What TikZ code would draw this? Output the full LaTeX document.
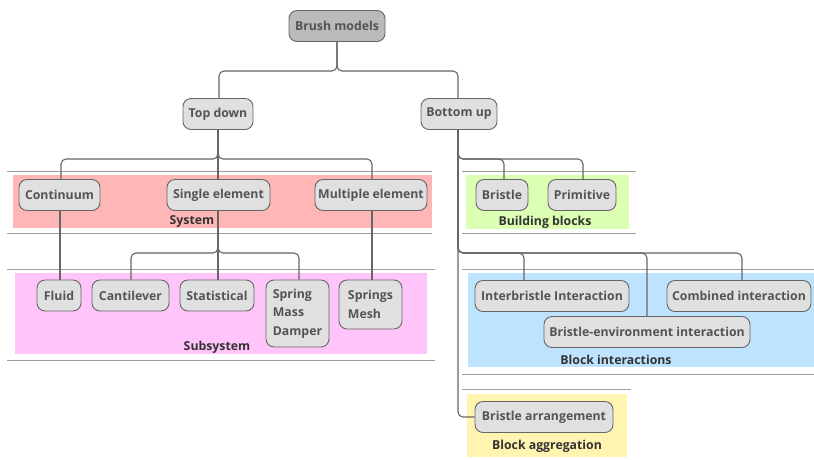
\documentclass[tikz,border=0pt]{standalone}
\usepackage{fontspec}
\setmainfont{Open Sans}
\definecolor{cSys}{HTML}{FFB6B6}
\definecolor{cSub}{HTML}{FFC4FA}
\definecolor{cBB}{HTML}{DDFFB3}
\definecolor{cBI}{HTML}{BDE3FF}
\definecolor{cBA}{HTML}{FFF5B0}
\begin{document}
\begin{tikzpicture}[x=1pt,y=-1pt,
  every node/.style={font=\bfseries\fontsize{12.3}{18.3}\selectfont},
  item/.style={draw=black!60, line width=0.9pt, fill=black!12, rounded corners=8pt, text=black!67, minimum height=31pt, inner xsep=2pt, inner ysep=0pt},
  root/.style={item, fill=black!27},
  band/.style={text=black!80},
  sep/.style={draw=black!38, line width=0.9pt},
  link/.style={draw=black!60, line width=1.1pt, rounded corners=5pt}]
\useasboundingbox (0,0) rectangle (814,459);
% bands
\fill[cSys] (13,175) rectangle (432,228);
\fill[cSub] (15,273) rectangle (427,354);
\fill[cBB] (466,175) rectangle (629,229);
\fill[cBI] (468,273) rectangle (814,367);
\fill[cBA] (467,394) rectangle (627,457);
\draw[sep] (7,171) -- (432,171);
\draw[sep] (7,233) -- (432,233);
\draw[sep] (7,269) -- (435,269);
\draw[sep] (7,360) -- (435,360);
\draw[sep] (462,171) -- (636,171);
\draw[sep] (462,233) -- (636,233);
\draw[sep] (462,269) -- (814,269);
\draw[sep] (462,374) -- (814,374);
\draw[sep] (462,389) -- (631,389);
\node[band] (lsys) at (192,222) {System};
\node[band] (lbb) at (545,222) {Building blocks};
\node[band] (lsub) at (217,347) {Subsystem};
\node[band] (lbi) at (616,360) {Block interactions};
\node[band] (lba) at (547,446) {Block aggregation};
% nodes
\node[root, minimum width=96pt] (brush) at (337,26) {Brush models};
\node[item, minimum width=70pt] (top) at (218,114) {Top down};
\node[item, minimum width=76pt] (bottom) at (459,114) {Bottom up};
\node[item, minimum width=81pt] (cont) at (59.5,195) {Continuum};
\node[item, minimum width=103pt] (single) at (218.5,195) {Single element};
\node[item, minimum width=112pt] (multi) at (371,195) {Multiple element};
\node[item, minimum width=52pt] (bristle) at (502,195) {Bristle};
\node[item, minimum width=68pt] (prim) at (582,195) {Primitive};
\node[item, minimum width=44pt] (fluid) at (59,295.5) {Fluid};
\node[item, minimum width=77pt] (cant) at (130.5,295.5) {Cantilever};
\node[item, minimum width=74pt] (stat) at (217,295.5) {Statistical};
\node[item, minimum width=63pt, minimum height=67pt, align=left, inner xsep=5pt] (smd) at (297.5,313.5) {Spring\\Mass\\Damper};
\node[item, minimum width=63pt, minimum height=49pt, align=left, inner xsep=5pt] (mesh) at (370.5,304.5) {Springs\\Mesh};
\node[item, minimum width=154pt] (inter) at (552,296) {Interbristle Interaction};
\node[item, minimum width=144pt] (comb) at (739,296) {Combined interaction};
\node[item, minimum width=206pt] (env) at (647,332) {Bristle-environment interaction};
\node[item, minimum width=138pt] (arr) at (544,417) {Bristle arrangement};
% connectors
\draw[link] (brush.south) -- (337,71) -| (top.north -| 219,0);
\draw[link] (brush.south) -- (337,71) -| (bottom.north -| 458,0);
\draw[link] (top.south -| 218,0) -- (218,159) -| (cont.north -| 61,0);
\draw[link] (top.south -| 218,0) -- (single.north -| 218,0);
\draw[link] (top.south -| 218,0) -- (218,159) -| (multi.north -| 372,0);
\draw[link] (cont.south -| 60,0) -- (fluid.north -| 60,0);
\draw[link] (multi.south -| 372,0) -- (mesh.north -| 372,0);
\draw[link] (single.south -| 218,0) -- (218,253) -| (cant.north -| 131,0);
\draw[link] (single.south -| 218,0) -- (stat.north -| 218,0);
\draw[link] (single.south -| 218,0) -- (218,253) -| (smd.north -| 299,0);
\draw[link] (bottom.south -| 458,0) -- (458,159) -| (bristle.north -| 504,0);
\draw[link] (bottom.south -| 458,0) -- (458,159) -| (prim.north -| 583,0);
\draw[link] (bottom.south -| 458,0) -- (458,253) -| (inter.north -| 524,0);
\draw[link] (bottom.south -| 458,0) -- (458,253) -| (env.north -| 647,0);
\draw[link] (bottom.south -| 458,0) -- (458,253) -| (comb.north -| 742,0);
\draw[link] (bottom.south -| 458,0) |- (arr.west);
\end{tikzpicture}
\end{document}
